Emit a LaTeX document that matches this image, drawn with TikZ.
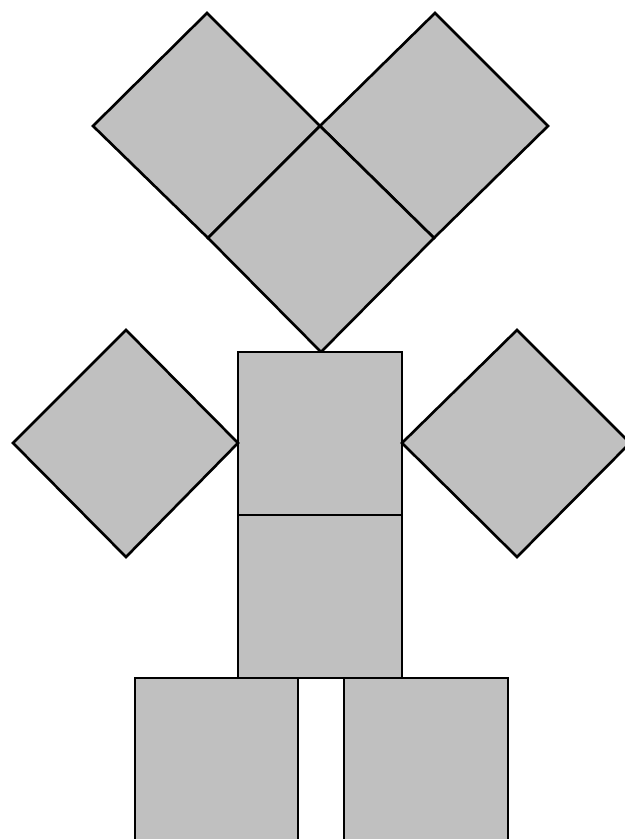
\documentclass[tikz,border=0pt]{standalone}
\usepackage{tikz}

\definecolor{blockgray}{RGB}{192,192,192}
\tikzset{block/.style={fill=blockgray,draw=black,line width=0.75pt,line join=miter}}

\begin{document}
\begin{tikzpicture}
  \clip (0,0) rectangle (6.25,8.39);
  \useasboundingbox (0,0) rectangle (6.25,8.39);
  \filldraw[block] (0.93,7.13) -- (2.07,8.26) -- (3.20,7.13) -- (2.08,6.01) -- cycle;
  \filldraw[block] (3.20,7.13) -- (4.35,8.26) -- (5.48,7.13) -- (4.34,6.01) -- cycle;
  \filldraw[block] (3.20,7.13) -- (4.34,6.01) -- (3.21,4.87) -- (2.08,6.01) -- cycle;
  \filldraw[block] (2.38,3.24) rectangle (4.02,4.87);
  \filldraw[block] (2.38,1.61) rectangle (4.02,3.24);
  \filldraw[block] (0.13,3.96) -- (1.26,5.09) -- (2.38,3.96) -- (1.26,2.82) -- cycle;
  \filldraw[block] (4.02,3.96) -- (5.17,5.09) -- (6.30,3.96) -- (5.17,2.82) -- cycle;
  \filldraw[block] (1.35,-0.05) rectangle (2.98,1.61);
  \filldraw[block] (3.44,-0.05) rectangle (5.08,1.61);
\end{tikzpicture}
\end{document}
